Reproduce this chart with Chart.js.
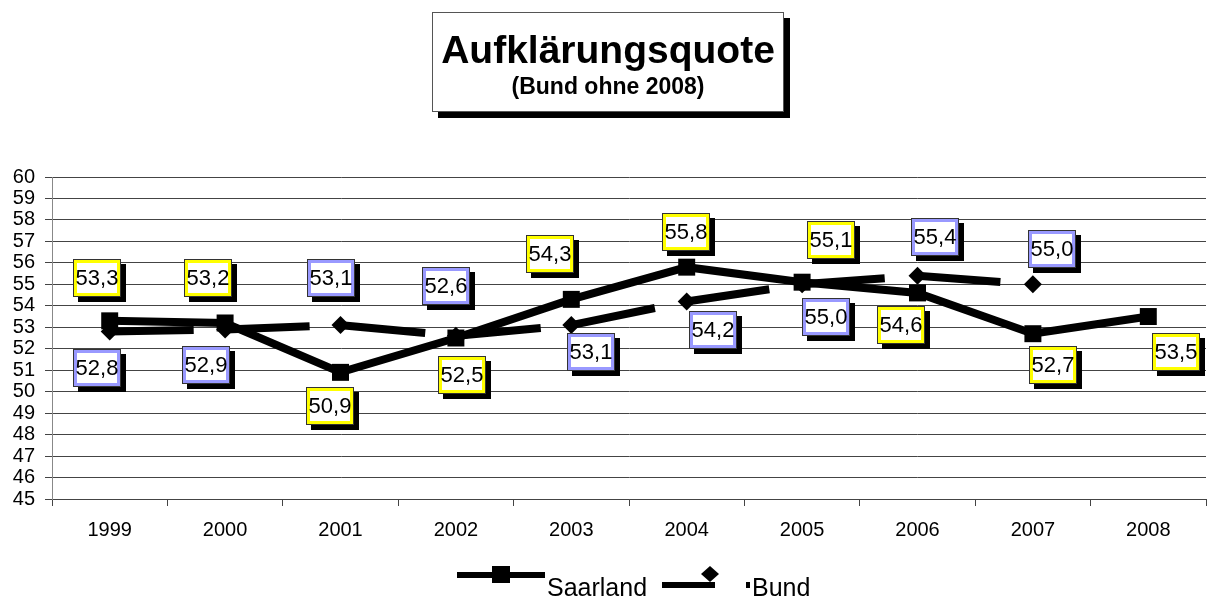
<!DOCTYPE html>
<html lang="de">
<head>
<meta charset="utf-8">
<title>Aufklärungsquote</title>
<script src="https://cdn.jsdelivr.net/npm/chart.js@4/dist/chart.umd.min.js"></script>
<style>
  html, body { margin: 0; padding: 0; background: #fff; }
  canvas { display: block; }
</style>
</head>
<body>
<canvas id="quote" width="1218" height="599"></canvas>
<script>
// Jahre und Aufklärungsquoten in Prozent
const years = ["1999", "2000", "2001", "2002", "2003", "2004", "2005", "2006", "2007", "2008"];
const saarland = [53.3, 53.2, 50.9, 52.5, 54.3, 55.8, 55.1, 54.6, 52.7, 53.5];
const bund = [52.8, 52.9, 53.1, 52.6, 53.1, 54.2, 55.0, 55.4, 55.0, null];
const yMin = 45;
const yMax = 60;

// where each value box sits relative to its point (px)
const saarlandBoxOffset = [[-13, -43], [-17, -45], [-11, 34], [6, 37], [-21, -45], [-1, -35], [29, -42], [-17, 32], [20, 31], [28, 35]];
const bundBoxOffset = [[-13, 36], [-19, 36], [-10, -47], [-10, -50], [20, 27], [26, 28], [24, 33], [17, -39], [19, -35]];

const FONT = "'Liberation Sans', Arial, Helvetica, sans-serif";
Chart.defaults.font.family = FONT;
Chart.defaults.color = "#000";

function fmt(v) {
  return v.toFixed(1).replace(".", ",");
}

// boxed title with drop shadow
const titleBox = {
  id: "titleBox",
  afterDraw(chart) {
    const ctx = chart.ctx;
    const x = 432, y = 12, w = 352, h = 100;
    ctx.save();
    ctx.fillStyle = "#000";
    ctx.fillRect(x + 6, y + 6, w, h);
    ctx.fillStyle = "#fff";
    ctx.fillRect(x, y, w, h);
    ctx.strokeStyle = "#555";
    ctx.lineWidth = 1;
    ctx.strokeRect(x + 0.5, y + 0.5, w - 1, h - 1);
    ctx.fillStyle = "#000";
    ctx.textAlign = "center";
    ctx.textBaseline = "alphabetic";
    ctx.font = "bold 39px " + FONT;
    ctx.fillText("Aufklärungsquote", x + w / 2, 63);
    ctx.font = "bold 23px " + FONT;
    ctx.fillText("(Bund ohne 2008)", x + w / 2, 94);
    ctx.restore();
  },
};

// value labels in framed boxes
const valueBoxes = {
  id: "valueBoxes",
  afterDatasetsDraw(chart) {
    const ctx = chart.ctx;
    const styles = [
      { frame: "#ffff00", offsets: saarlandBoxOffset },
      { frame: "#9999ff", offsets: bundBoxOffset },
    ];
    ctx.save();
    chart.data.datasets.forEach((ds, di) => {
      const meta = chart.getDatasetMeta(di);
      const st = styles[di];
      meta.data.forEach((pt, i) => {
        const v = ds.data[i];
        if (v === null || pt.skip) return;
        const off = st.offsets[i];
        const w = 48, h = 38;
        const bx = Math.round(pt.x + off[0] - w / 2);
        const by = Math.round(pt.y + off[1] - h / 2);
        ctx.fillStyle = "#000";
        ctx.fillRect(bx + 5, by + 5, w, h);
        ctx.fillStyle = "#333";
        ctx.fillRect(bx, by, w, h);
        ctx.fillStyle = st.frame;
        ctx.fillRect(bx + 1, by + 1, w - 2, h - 2);
        ctx.fillStyle = "#fff";
        ctx.fillRect(bx + 4, by + 4, w - 8, h - 8);
        ctx.fillStyle = "#000";
        ctx.font = "22px " + FONT;
        ctx.textAlign = "center";
        ctx.textBaseline = "middle";
        ctx.fillText(fmt(v), bx + w / 2, by + h / 2 + 1);
      });
    });
    ctx.restore();
  },
};

// legend under the axis
const bottomLegend = {
  id: "bottomLegend",
  afterDraw(chart) {
    const ctx = chart.ctx;
    const ds = chart.data.datasets;
    ctx.save();
    ctx.fillStyle = "#000";
    ctx.strokeStyle = "#000";
    ctx.lineWidth = 6;

    // Saarland: line with square
    ctx.beginPath();
    ctx.moveTo(457, 575);
    ctx.lineTo(545, 575);
    ctx.stroke();
    ctx.fillRect(492, 566, 18, 17);

    // Bund: short line with diamond
    ctx.beginPath();
    ctx.moveTo(662, 585);
    ctx.lineTo(715, 585);
    ctx.stroke();
    ctx.beginPath();
    ctx.moveTo(710, 566);
    ctx.lineTo(719, 574);
    ctx.lineTo(710, 582);
    ctx.lineTo(701, 574);
    ctx.closePath();
    ctx.fill();
    ctx.fillRect(746, 582, 4, 6);

    ctx.font = "25px " + FONT;
    ctx.textAlign = "left";
    ctx.textBaseline = "alphabetic";
    ctx.fillText(ds[0].label, 547, 596);
    ctx.fillText(ds[1].label, 752, 596);
    ctx.restore();
  },
};

const ctx = document.getElementById("quote").getContext("2d");
new Chart(ctx, {
  type: "line",
  data: {
    labels: years,
    datasets: [
      {
        label: "Saarland",
        data: saarland,
        borderColor: "#000",
        backgroundColor: "#000",
        borderWidth: 8,
        tension: 0,
        pointStyle: "rect",
        pointRadius: 12,
        pointBorderWidth: 0,
        pointBackgroundColor: "#000",
      },
      {
        label: "Bund",
        data: bund,
        borderColor: "#000",
        backgroundColor: "#000",
        borderWidth: 8,
        borderDash: [84, 32],
        tension: 0,
        pointStyle: "rectRot",
        pointRadius: 9,
        pointBorderWidth: 0,
        pointBackgroundColor: "#000",
      },
    ],
  },
  options: {
    responsive: false,
    animation: false,
    devicePixelRatio: 1,
    layout: { padding: { top: 177, right: 6, bottom: 50, left: 0 } },
    plugins: {
      legend: { display: false },
      title: { display: false },
      tooltip: { enabled: false },
    },
    scales: {
      x: {
        offset: true,
        afterFit(scale) {
          scale.height = 50;
        },
        grid: {
          offset: true,
          drawOnChartArea: false,
          drawTicks: true,
          tickLength: 7,
          color: "#444",
        },
        border: { color: "#444", width: 1 },
        ticks: {
          padding: 12,
          maxRotation: 0,
          font: { size: 20 },
          color: "#000",
        },
      },
      y: {
        min: yMin,
        max: yMax,
        afterFit(scale) {
          scale.width = 52;
        },
        grid: {
          color: "#444",
          lineWidth: 1,
          drawTicks: true,
          tickLength: 7,
        },
        border: { color: "#888", width: 1 },
        ticks: {
          stepSize: 1,
          autoSkip: false,
          padding: 10,
          font: { size: 20 },
          color: "#000",
        },
      },
    },
  },
  plugins: [titleBox, valueBoxes, bottomLegend],
});
</script>
</body>
</html>
